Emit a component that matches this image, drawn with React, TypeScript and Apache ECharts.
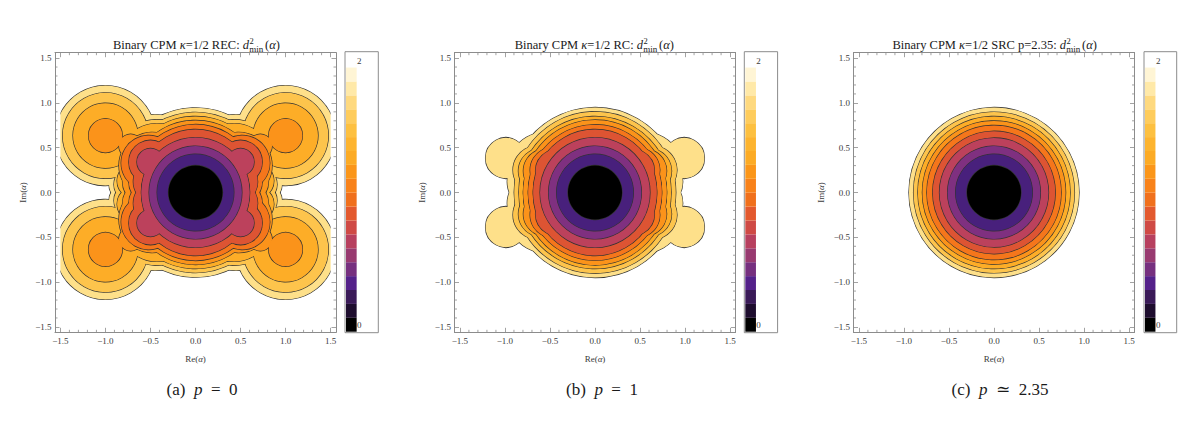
import React, { useEffect, useRef } from "react";
import * as echarts from "echarts";

const SERIF = '"Liberation Serif", "DejaVu Serif", serif';

// Filled contour colours, outermost level first
const levelColors = ["#fee08a", "#fdc44c", "#fdad27", "#fb931a", "#f5761b", "#dd5433", "#bc415c", "#7f3080", "#48207c", "#000000"];

// Each level is a union of discs [re, im, radius], read in the first quadrant and mirrored
const recLevels = [
  [[0, 0.05, 0.89], [0.45, 0.35, 0.517], [1.0, 0.635, 0.555], [0.78, 0.09, 0.18]],
  [[0, 0.05, 0.84], [0.43, 0.35, 0.46], [1.0, 0.635, 0.475], [0.72, 0.09, 0.185]],
  [[0, 0.05, 0.795], [0.43, 0.35, 0.417], [1.0, 0.635, 0.36], [0.68, 0.13, 0.19]],
  [[0, 0.05, 0.75], [0.48, 0.3, 0.37], [0.72, 0.52, 0.13], [1.0, 0.635, 0.187], [0.58, 0.12, 0.23]],
  [[0, 0.05, 0.705], [0.52, 0.33, 0.305], [0.5, 0.12, 0.24]],
  [[0, 0.05, 0.65], [0.5, 0.34, 0.24], [0.44, 0.12, 0.25]],
  [[0, 0.01, 0.6], [0.5, 0.34, 0.15]],
  [[0, 0, 0.515]],
  [[0, 0, 0.426]],
  [[0, 0, 0.3]],
];

const rcLevels = [
  [[0, 0, 0.944], [0.55, 0.25, 0.42], [0.99, 0.385, 0.225], [0.66, 0.12, 0.314]],
  [[0, 0, 0.897], [0.64, 0.25, 0.27]],
  [[0, 0, 0.845], [0.6, 0.24, 0.25]],
  [[0, 0.01, 0.795], [0.55, 0.24, 0.245]],
  [[0, 0.012, 0.74], [0.47, 0.25, 0.25]],
  [[0, 0.015, 0.685], [0.42, 0.24, 0.24]],
  [[0, 0, 0.61]],
  [[0, 0, 0.515]],
  [[0, 0, 0.426]],
  [[0, 0, 0.3]],
];

const srcRadii = [0.944, 0.893, 0.845, 0.795, 0.745, 0.68, 0.605, 0.515, 0.426, 0.3];

// Colour-bar bands, from 0 upwards
const colorbarBands = [
  "#000000", "#1e0d2e", "#3a1a58", "#54218a", "#76307f", "#983a70", "#b7405f", "#cf4a45", "#e3592e", "#f0701c",
  "#f8821a", "#fb9619", "#fcab25", "#fdb42f", "#fdc040", "#fecc5c", "#fed97f", "#ffe9a8", "#fff5d5",
];
const colorbarLabels = ["0", "2"];

const majorTicks = [-1.5, -1, -0.5, 0, 0.5, 1, 1.5];
const minorTicks = [
  -1.4, -1.3, -1.2, -1.1, -0.9, -0.8, -0.7, -0.6, -0.4, -0.3, -0.2, -0.1,
  0.1, 0.2, 0.3, 0.4, 0.6, 0.7, 0.8, 0.9, 1.1, 1.2, 1.3, 1.4,
];

const titleHeads = ["REC", "RC", "SRC p=2.35"];
const captions = [
  ["(a)", "=", "0"],
  ["(b)", "=", "1"],
  ["(c)", "\u2243", "2.35"],
];

const AXIS_LIMIT = 1.56;
const DOMAIN_LIMIT = 1.5;
const AXIS_COLOR = "#8c8c8c";
const TEXT_COLOR = "#3a3a3a";

const panels = [
  { left: 55, cbLeft: 345, cbWidth: 33.3, titleEnd: 249, capX: 202, levels: recLevels },
  { left: 454.5, cbLeft: 744.3, cbWidth: 33.3, titleEnd: 643, capX: 602, levels: rcLevels },
  { left: 853.5, cbLeft: 1144, cbWidth: 32.7, titleEnd: 1066, capX: 1000, levels: srcRadii.map((r) => [[0, 0, r]]) },
];
const PLOT_W = 281;
const PLOT_TOP = 52.7;
const PLOT_H = 279.6;

function mirror(discs: number[][]) {
  const out: number[][] = [];
  for (const [x, y, r] of discs) {
    const xs = x === 0 ? [0] : [x, -x];
    const ys = y === 0 ? [0] : [y, -y];
    for (const a of xs) for (const b of ys) out.push([a, b, r]);
  }
  return out;
}

function contourRender(levels: number[][][]) {
  return (params: any, api: any) => {
    const i = api.value(0) as number;
    const discs = mirror(levels[i]);
    const children: any[] = [];
    const shape = (d: number[]) => {
      const c = api.coord([d[0], d[1]]);
      return { cx: c[0], cy: c[1], r: api.size([d[2], 0])[0] };
    };
    for (const d of discs) {
      children.push({ type: "circle", shape: shape(d), style: { fill: "#333333", stroke: "#333333", lineWidth: 1.3 } });
    }
    for (const d of discs) {
      children.push({ type: "circle", shape: shape(d), style: { fill: levelColors[i] } });
    }
    return { type: "group", children };
  };
}

function maskRender(params: any, api: any) {
  const side = api.value(0) as number;
  const a = api.coord([side * DOMAIN_LIMIT, AXIS_LIMIT]);
  const b = api.coord([side * (AXIS_LIMIT + 0.03), -AXIS_LIMIT]);
  return {
    type: "rect",
    shape: { x: Math.min(a[0], b[0]), y: a[1], width: Math.abs(b[0] - a[0]), height: b[1] - a[1] },
    style: { fill: "#ffffff" },
  };
}

function minorTickRender(params: any, api: any) {
  const v = api.value(0) as number;
  const len = 2.5;
  const seg = (p: number[], dx: number, dy: number) => ({
    type: "line",
    shape: { x1: p[0], y1: p[1], x2: p[0] + dx, y2: p[1] + dy },
    style: { stroke: AXIS_COLOR, lineWidth: 0.8 },
  });
  return {
    type: "group",
    children: [
      seg(api.coord([v, -AXIS_LIMIT]), 0, -len),
      seg(api.coord([v, AXIS_LIMIT]), 0, len),
      seg(api.coord([-AXIS_LIMIT, v]), len, 0),
      seg(api.coord([AXIS_LIMIT, v]), -len, 0),
    ],
  };
}

function bandRender(params: any, api: any) {
  const i = api.value(0) as number;
  const a = api.coord([0.03, i + 1]);
  const b = api.coord([0.35, i]);
  return {
    type: "rect",
    shape: { x: a[0], y: a[1], width: b[0] - a[0], height: b[1] - a[1] },
    style: { fill: colorbarBands[i] },
  };
}

const tickLabel = (v: number) => v.toFixed(1).replace("-", "\u2212");
const axisRich = {
  r: { fontFamily: SERIF, fontSize: 9, color: TEXT_COLOR },
  i: { fontFamily: SERIF, fontSize: 9, color: TEXT_COLOR, fontStyle: "italic" },
};

function frameAxis(position: string, labelled: boolean, name?: string) {
  const vertical = position === "left" || position === "right";
  return {
    type: "value",
    position,
    min: -AXIS_LIMIT,
    max: AXIS_LIMIT,
    z: 10,
    splitLine: { show: false },
    axisLine: { show: true, onZero: false, lineStyle: { color: AXIS_COLOR, width: 1 } },
    axisTick: { show: true, inside: true, length: 4.5, customValues: majorTicks, lineStyle: { color: AXIS_COLOR, width: 0.8 } },
    axisLabel: {
      show: labelled,
      customValues: majorTicks,
      formatter: tickLabel,
      fontFamily: SERIF,
      fontSize: 9,
      color: TEXT_COLOR,
      margin: vertical ? 3.5 : 4.5,
    },
    ...(name
      ? {
          name,
          nameLocation: "middle",
          nameGap: vertical ? 28 : 22,
          nameRotate: vertical ? 90 : 0,
          nameTextStyle: { rich: axisRich, fontFamily: SERIF, fontSize: 9, color: TEXT_COLOR },
        }
      : {}),
  };
}

function buildOption() {
  const grid: any[] = [];
  const xAxis: any[] = [];
  const yAxis: any[] = [];
  const series: any[] = [];
  const graphic: any[] = [];

  panels.forEach((p, k) => {
    const gPlot = 2 * k;
    const gBar = 2 * k + 1;
    grid.push({ left: p.left, top: PLOT_TOP, width: PLOT_W, height: PLOT_H });
    grid.push({
      show: true,
      left: p.cbLeft,
      top: 51.7,
      width: p.cbWidth,
      height: 281,
      borderColor: AXIS_COLOR,
      borderWidth: 1,
      backgroundColor: "transparent",
    });
    xAxis.push(
      { ...frameAxis("bottom", true, "{r|Re(}{i|\u03b1}{r|)}"), gridIndex: gPlot },
      { ...frameAxis("top", false), gridIndex: gPlot },
      { type: "value", show: false, gridIndex: gBar, min: 0, max: 1 },
    );
    yAxis.push(
      { ...frameAxis("left", true, "{r|Im(}{i|\u03b1}{r|)}"), gridIndex: gPlot },
      { ...frameAxis("right", false), gridIndex: gPlot },
      { type: "value", show: false, gridIndex: gBar, min: -0.07, max: 20.14 },
    );
    const xi = 3 * k;
    series.push({
      type: "custom",
      xAxisIndex: xi,
      yAxisIndex: xi,
      silent: true,
      z: 2,
      renderItem: contourRender(p.levels),
      data: p.levels.map((_, i) => [i, 0]),
    });
    series.push({
      type: "custom",
      xAxisIndex: xi,
      yAxisIndex: xi,
      silent: true,
      z: 3,
      renderItem: maskRender,
      data: [[-1, 0], [1, 0]],
    });
    series.push({
      type: "custom",
      xAxisIndex: xi,
      yAxisIndex: xi,
      silent: true,
      z: 10,
      renderItem: minorTickRender,
      data: minorTicks.map((v) => [v, 0]),
    });
    series.push({
      type: "custom",
      xAxisIndex: xi + 2,
      yAxisIndex: xi + 2,
      silent: true,
      renderItem: bandRender,
      data: colorbarBands.map((_, i) => [i, 0]),
    });

    // Title
    const base = { fontFamily: SERIF, fill: "#1a1a1a" };
    const titleRich = {
      n: { fontFamily: SERIF, fontSize: 12.5, fill: "#1a1a1a", color: "#1a1a1a" },
      i: { fontFamily: SERIF, fontSize: 12.5, fontStyle: "italic", fill: "#1a1a1a", color: "#1a1a1a" },
    };
    graphic.push({
      type: "text",
      x: p.titleEnd,
      y: 44.5,
      style: {
        ...base,
        text: `{n|Binary CPM }{i|\u03ba}{n|=1/2 ${titleHeads[k]}: }{i|d}`,
        align: "right",
        verticalAlign: "middle",
        fontSize: 12.5,
        rich: titleRich,
      },
    });
    graphic.push({
      type: "text",
      x: p.titleEnd + 0.5,
      y: 40.5,
      style: { ...base, text: "2", fontSize: 8.5, align: "left", verticalAlign: "middle" },
    });
    graphic.push({
      type: "text",
      x: p.titleEnd + 0.3,
      y: 48.5,
      style: { ...base, text: "min", fontSize: 9, align: "left", verticalAlign: "middle" },
    });
    graphic.push({
      type: "text",
      x: p.titleEnd + 16,
      y: 44.5,
      style: {
        ...base,
        text: "{n|(}{i|\u03b1}{n|)}",
        align: "left",
        verticalAlign: "middle",
        fontSize: 12.5,
        rich: titleRich,
      },
    });

    // Colour-bar labels
    graphic.push({
      type: "text",
      x: p.cbLeft + 14.3,
      y: 325,
      style: { fontFamily: SERIF, fill: TEXT_COLOR, text: colorbarLabels[0], fontSize: 9, align: "center", verticalAlign: "middle" },
    });
    graphic.push({
      type: "text",
      x: p.cbLeft + 14.3,
      y: 60.7,
      style: { fontFamily: SERIF, fill: TEXT_COLOR, text: colorbarLabels[1], fontSize: 9, align: "center", verticalAlign: "middle" },
    });

    // Caption
    const [tag, rel, val] = captions[k];
    graphic.push({
      type: "text",
      x: p.capX,
      y: 389,
      style: {
        fontFamily: SERIF,
        fill: "#1a1a1a",
        text: `{n|${tag}  }{i|p}{n|  ${rel}  ${val}}`,
        align: "center",
        verticalAlign: "middle",
        fontSize: 17,
        rich: {
          n: { fontFamily: SERIF, fontSize: 17, fill: "#1a1a1a", color: "#1a1a1a" },
          i: { fontFamily: SERIF, fontSize: 17, fontStyle: "italic", fill: "#1a1a1a", color: "#1a1a1a" },
        },
      },
    });
  });

  return { animation: false, backgroundColor: "#ffffff", grid, xAxis, yAxis, series, graphic };
}

export default function App() {
  const ref = useRef<HTMLDivElement>(null);
  useEffect(() => {
    const chart = echarts.init(ref.current!, null, { renderer: "svg" });
    chart.setOption(buildOption() as any);
    return () => chart.dispose();
  }, []);
  return <div ref={ref} style={{ position: "fixed", left: 0, top: 0, width: 1200, height: 436 }} />;
}
